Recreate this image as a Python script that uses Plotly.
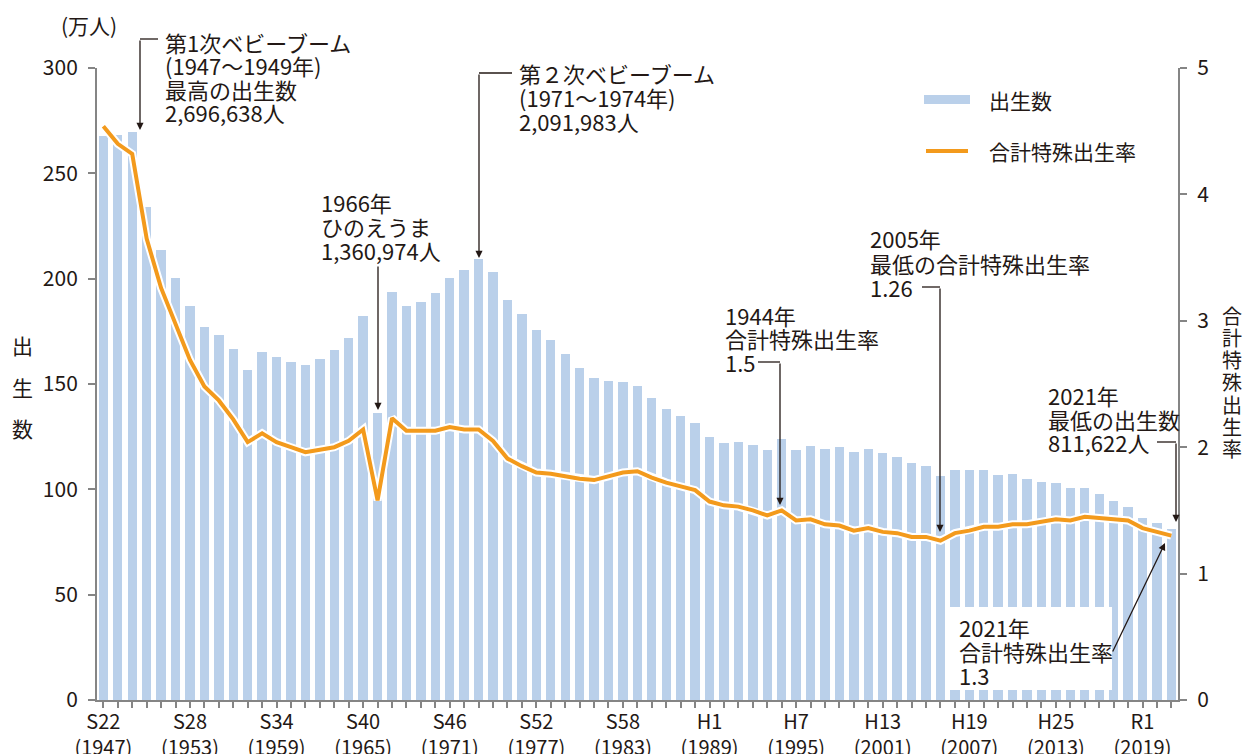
import plotly.graph_objects as go

years = list(range(1947, 2022))
births = [267.9, 268.2, 269.7, 233.8, 213.8, 200.5, 186.8, 177.0, 173.1, 166.5,
          156.7, 165.3, 162.6, 160.6, 158.9, 161.9, 166.0, 171.7, 182.4, 136.1,
          193.6, 187.2, 188.9, 193.4, 200.1, 203.9, 209.2, 203.0, 190.1, 183.3,
          175.5, 170.9, 164.3, 157.7, 152.9, 151.5, 150.9, 149.0, 143.2, 138.3,
          134.7, 131.4, 124.7, 122.2, 122.3, 120.9, 118.8, 123.8, 118.7, 120.7,
          119.2, 120.3, 117.8, 119.1, 117.1, 115.4, 112.4, 111.1, 106.3, 109.3,
          109.0, 109.1, 107.0, 107.1, 105.1, 103.7, 103.0, 100.4, 100.6, 97.7,
          94.6, 91.8, 86.5, 84.1, 81.2]
tfr = [4.54, 4.40, 4.32, 3.65, 3.26, 2.98, 2.69, 2.48, 2.37, 2.22,
       2.04, 2.11, 2.04, 2.00, 1.96, 1.98, 2.00, 2.05, 2.14, 1.58,
       2.23, 2.13, 2.13, 2.13, 2.16, 2.14, 2.14, 2.05, 1.91, 1.85,
       1.80, 1.79, 1.77, 1.75, 1.74, 1.77, 1.80, 1.81, 1.76, 1.72,
       1.69, 1.66, 1.57, 1.54, 1.53, 1.50, 1.46, 1.50, 1.42, 1.43,
       1.39, 1.38, 1.34, 1.36, 1.33, 1.32, 1.29, 1.29, 1.26, 1.32,
       1.34, 1.37, 1.37, 1.39, 1.39, 1.41, 1.43, 1.42, 1.45, 1.44,
       1.43, 1.42, 1.36, 1.33, 1.30]

label_years = [1947, 1953, 1959, 1965, 1971, 1977, 1983, 1989, 1995, 2001, 2007, 2013, 2019]
label_eras = ["S22", "S28", "S34", "S40", "S46", "S52", "S58", "H1", "H7", "H13", "H19", "H25", "R1"]

BAR = "#bad0ea"
ORANGE = "#f39a1c"
GREY = "#858585"
INK = "#231815"
FONT = "Noto Sans CJK JP"

ticktext = []
for y in years:
    if y in label_years:
        ticktext.append(label_eras[label_years.index(y)] + "<br>(" + str(y) + ")")
    else:
        ticktext.append("")

fig = go.Figure()
fig.add_trace(go.Bar(x=years, y=births, width=0.65, marker=dict(color=BAR, line=dict(width=0)),
                     name="出生数", hoverinfo="skip"))
fig.add_trace(go.Scatter(x=years, y=tfr, yaxis="y2", mode="lines",
                         line=dict(color="white", width=8), hoverinfo="skip"))
fig.add_trace(go.Scatter(x=years, y=tfr, yaxis="y2", mode="lines",
                         line=dict(color=ORANGE, width=4), name="合計特殊出生率"))

# plot area in page pixels
L, R, T, B = 97, 1178, 68, 700
W, H = 1244, 754


def px(x):
    return (x - L) / (R - L)


def py(y):
    return (B - y) / (B - T)


anns = []
shapes = []


def text_block(x, y, lines, step=24, size=22):
    for i, t in enumerate(lines):
        anns.append(dict(x=px(x), y=py(y + i * step), xref="paper", yref="paper", text=t,
                         showarrow=False, xanchor="left", yanchor="middle",
                         font=dict(size=size, color=INK, family=FONT)))


def arrow(x0, y0, x1, y1):
    anns.append(dict(x=px(x1), y=py(y1), xref="paper", yref="paper", text="",
                     showarrow=True, ax=x0 - x1, ay=y0 - y1, arrowhead=2, arrowsize=1.1,
                     arrowwidth=1.3, arrowcolor=INK, standoff=0, startstandoff=0))


def hline(x0, x1, y):
    shapes.append(dict(type="line", xref="paper", yref="paper", x0=px(x0), x1=px(x1),
                       y0=py(y), y1=py(y), line=dict(color=INK, width=1.3)))


# white box behind the 2021 TFR note
shapes.append(dict(type="rect", xref="paper", yref="paper", x0=px(947), x1=px(1112),
                   y0=py(690), y1=py(607), fillcolor="white", line=dict(width=0), layer="above"))

text_block(163, 42, ["第1次ベビーブーム", "(1947〜1949年)", "最高の出生数", "2,696,638人"], step=23.3)
hline(158, 140, 39)
arrow(140, 39, 140, 130)

text_block(319, 202, ["1966年", "ひのえうま", "1,360,974人"])
arrow(378, 265, 378, 410)

text_block(517, 73, ["第２次ベビーブーム", "(1971〜1974年)", "2,091,983人"])
hline(512, 479, 73)
arrow(479, 73, 479, 258)

text_block(723, 315, ["1944年", "合計特殊出生率", "1.5"], step=23.5)
hline(758, 780, 362)
arrow(780, 362, 780, 505)

text_block(868, 238, ["2005年", "最低の合計特殊出生率", "1.26"], step=24.5)
hline(922, 940, 287)
arrow(940, 287, 940, 532)

text_block(1046, 395, ["2021年", "最低の出生数", "811,622人"], step=23.5)
hline(1157, 1176, 442)
arrow(1176, 442, 1176, 522)

text_block(957, 627, ["2021年", "合計特殊出生率", "1.3"])
arrow(1112, 653, 1165, 543)

# legend
shapes.append(dict(type="rect", xref="paper", yref="paper", x0=px(924), x1=px(970),
                   y0=py(104), y1=py(95), fillcolor=BAR, line=dict(width=0)))
shapes.append(dict(type="line", xref="paper", yref="paper", x0=px(926), x1=px(968),
                   y0=py(151), y1=py(151), line=dict(color=ORANGE, width=4)))
text_block(987, 100, ["出生数"], size=21)
text_block(987, 151, ["合計特殊出生率"], size=21)

# axis titles
anns.append(dict(x=px(89), y=py(25), xref="paper", yref="paper", text="(万人)", showarrow=False,
                 xanchor="center", yanchor="middle", font=dict(size=21, color=INK, family=FONT)))
for i, ch in enumerate("出生数"):
    anns.append(dict(x=px(22), y=py(345 + i * 41.5), xref="paper", yref="paper", text=ch,
                     showarrow=False, xanchor="center", yanchor="middle",
                     font=dict(size=21, color=INK, family=FONT)))
for i, ch in enumerate("合計特殊出生率"):
    anns.append(dict(x=px(1232), y=py(315 + i * 22.3), xref="paper", yref="paper", text=ch,
                     showarrow=False, xanchor="center", yanchor="middle",
                     font=dict(size=20, color=INK, family=FONT)))

tickfont = dict(size=21, color=INK, family=FONT)
fig.update_layout(
    width=W, height=H,
    margin=dict(l=L, r=W - R, t=T, b=H - B),
    paper_bgcolor="white", plot_bgcolor="white",
    showlegend=False, bargap=0,
    font=dict(family=FONT, color=INK),
    xaxis=dict(range=[1946.56, 2021.46], tickmode="array", tickvals=years, ticktext=ticktext,
               ticks="outside", ticklen=6, tickwidth=1.5, tickcolor=GREY,
               showline=True, linecolor=GREY, linewidth=2, showgrid=False, zeroline=False,
               tickangle=0, tickfont=dict(size=20, color=INK, family=FONT),
               ticklabelstandoff=-3, automargin=False),
    yaxis=dict(range=[0, 300], tickvals=[0, 50, 100, 150, 200, 250, 300],
               ticks="outside", ticklen=7, tickwidth=1.5, tickcolor=GREY,
               showline=True, linecolor=GREY, linewidth=2, showgrid=False, zeroline=False,
               tickfont=tickfont, ticklabelstandoff=6, automargin=False),
    yaxis2=dict(range=[0, 5], tickvals=[0, 1, 2, 3, 4, 5], overlaying="y", side="right",
                ticks="outside", ticklen=7, tickwidth=1.5, tickcolor=GREY,
                showline=True, linecolor=GREY, linewidth=2, showgrid=False, zeroline=False,
                tickfont=tickfont, ticklabelstandoff=6, automargin=False),
    annotations=anns, shapes=shapes,
)

# drop the default page margin so the 1244x754 figure fills the window exactly
fig.write_html("out.html", config={"displayModeBar": False},
               post_script="document.body.style.margin='0';")
